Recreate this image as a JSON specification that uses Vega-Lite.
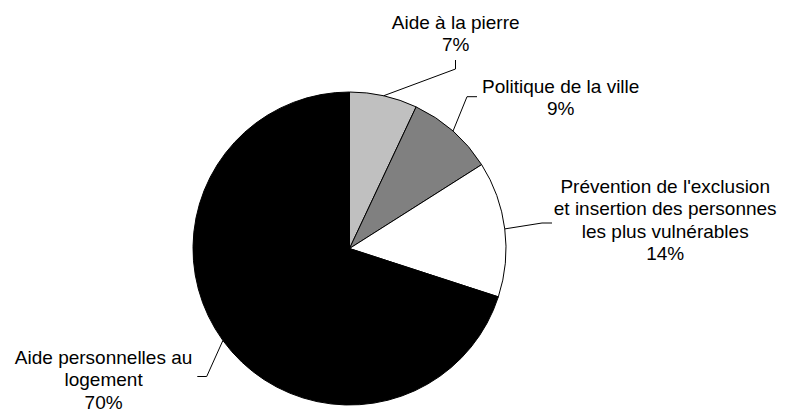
{
  "$schema": "https://vega.github.io/schema/vega-lite/v6.json",
  "width": 699,
  "height": 321,
  "autosize": {"type": "none"},
  "padding": {"left": 0, "top": 88, "right": 89, "bottom": 0},
  "background": "white",
  "config": {"view": {"stroke": null}},
  "data": {
    "values": [
      {"name": "Aide à la pierre", "value": 7, "rank": 1, "label": "Aide à la pierre\n7%"},
      {"name": "Politique de la ville", "value": 9, "rank": 2, "label": "Politique de la ville\n9%"},
      {"name": "Prévention de l'exclusion et insertion des personnes les plus vulnérables", "value": 14, "rank": 3, "label": "Prévention de l'exclusion\net insertion des personnes\nles plus vulnérables\n14%"},
      {"name": "Aide personnelles au logement", "value": 70, "rank": 4, "label": "Aide personnelles au\nlogement\n70%"}
    ]
  },
  "layer": [
    {
      "mark": {"type": "arc", "radius": 156.5, "stroke": "#000000", "strokeWidth": 1},
      "encoding": {
        "theta": {"field": "value", "type": "quantitative", "stack": true},
        "order": {"field": "rank", "type": "quantitative"},
        "color": {
          "field": "name",
          "type": "nominal",
          "scale": {
            "domain": ["Aide à la pierre", "Politique de la ville", "Prévention de l'exclusion et insertion des personnes les plus vulnérables", "Aide personnelles au logement"],
            "range": ["#c0c0c0", "#808080", "#ffffff", "#000000"]
          },
          "legend": null
        }
      }
    },
    {
      "mark": {"type": "point", "filled": false, "stroke": "#000000", "strokeWidth": 1, "opacity": 1, "size": 4},
      "encoding": {
        "shape": {
          "field": "name",
          "type": "nominal",
          "scale": {
            "domain": ["Aide à la pierre", "Politique de la ville", "Prévention de l'exclusion et insertion des personnes les plus vulnérables", "Aide personnelles au logement"],
            "range": ["M34,-152.7L106,-179.5L106,-188.5", "M103.5,-117.4L117.5,-151.8L127.5,-151.8", "M155.3,-19.6L192.5,-25.5L202.5,-25.5", "M-126.6,92L-142.8,128L-152.2,128"]
          },
          "legend": null
        }
      }
    },
    {
      "mark": {"type": "text", "font": "Liberation Sans", "fontSize": 19, "lineHeight": 22.5, "lineBreak": "\n", "align": "center", "baseline": "alphabetic", "color": "#000000", "radius": 234.5, "dx": 55, "dy": 9},
      "encoding": {
        "theta": {"field": "value", "type": "quantitative", "stack": true},
        "order": {"field": "rank", "type": "quantitative"},
        "text": {"condition": {"test": "datum.rank === 1", "field": "label"}, "value": ""}
      }
    },
    {
      "mark": {"type": "text", "font": "Liberation Sans", "fontSize": 19, "lineHeight": 22.5, "lineBreak": "\n", "align": "center", "baseline": "alphabetic", "color": "#000000", "radius": 254.3, "dx": 43, "dy": 35},
      "encoding": {
        "theta": {"field": "value", "type": "quantitative", "stack": true},
        "order": {"field": "rank", "type": "quantitative"},
        "text": {"condition": {"test": "datum.rank === 2", "field": "label"}, "value": ""}
      }
    },
    {
      "mark": {"type": "text", "font": "Liberation Sans", "fontSize": 19, "lineHeight": 22.5, "lineBreak": "\n", "align": "center", "baseline": "alphabetic", "color": "#000000", "radius": 317.2, "dx": 1, "dy": -16},
      "encoding": {
        "theta": {"field": "value", "type": "quantitative", "stack": true},
        "order": {"field": "rank", "type": "quantitative"},
        "text": {"condition": {"test": "datum.rank === 3", "field": "label"}, "value": ""}
      }
    },
    {
      "mark": {"type": "text", "font": "Liberation Sans", "fontSize": 19, "lineHeight": 22.5, "lineBreak": "\n", "align": "center", "baseline": "alphabetic", "color": "#000000", "radius": 274.3, "dx": -24, "dy": -46},
      "encoding": {
        "theta": {"field": "value", "type": "quantitative", "stack": true},
        "order": {"field": "rank", "type": "quantitative"},
        "text": {"condition": {"test": "datum.rank === 4", "field": "label"}, "value": ""}
      }
    }
  ]
}
